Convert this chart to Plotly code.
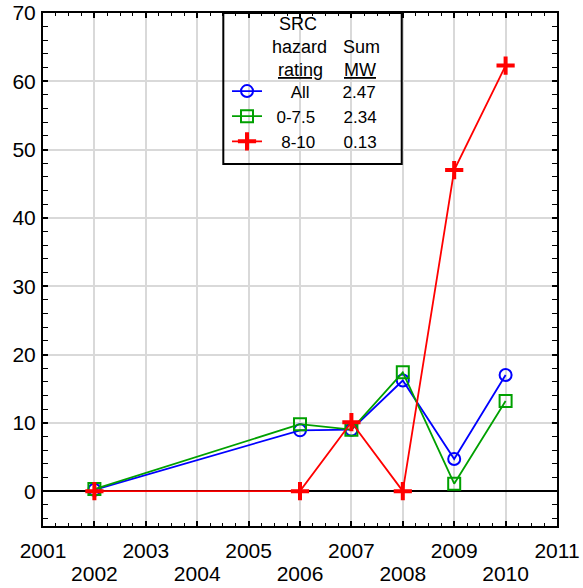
import plotly.graph_objects as go

# ---- data ----
years = [2002, 2006, 2007, 2008, 2009, 2010]
all_vals = [0.2, 8.9, 9.0, 16.2, 4.7, 17.0]
low_vals = [0.3, 9.8, 9.0, 17.4, 1.1, 13.2]
high_vals = [0.0, 0.0, 10.1, 0.0, 47.0, 62.3]

series_names = ["All", "0-7.5", "8-10"]
sum_mw = ["2.47", "2.34", "0.13"]

odd_years = [2001, 2003, 2005, 2007, 2009, 2011]
even_years = [2002, 2004, 2006, 2008, 2010]
all_years = list(range(2001, 2012))

FONT = "Liberation Sans, Arial, sans-serif"
NB = "\u00a0"

# legend labels: name and Sum MW padded into two columns
pad_before = [5, 2, 3]
pad_mid = [7, 6, 6]
legend_labels = [NB * a + n + NB * b + v
                 for n, v, a, b in zip(series_names, sum_mw, pad_before, pad_mid)]

fig = go.Figure()
fig.add_trace(go.Scatter(
    x=years, y=all_vals, name=legend_labels[0], mode="lines+markers",
    line=dict(color="#0000ff", width=1.8),
    marker=dict(symbol="circle-open", size=12, color="#0000ff", line=dict(width=2, color="#0000ff")),
))
fig.add_trace(go.Scatter(
    x=years, y=low_vals, name=legend_labels[1], mode="lines+markers",
    line=dict(color="#00a000", width=1.8),
    marker=dict(symbol="square-open", size=12, color="#00a000", line=dict(width=2, color="#00a000")),
))
fig.add_trace(go.Scatter(
    x=years, y=high_vals, name=legend_labels[2], mode="lines+markers",
    xaxis="x2",
    line=dict(color="#ff0000", width=1.8),
    marker=dict(symbol="cross-thin", size=13, color="#ff0000", line=dict(width=4, color="#ff0000")),
))

GRID = "#d9d9d9"

fig.update_layout(
    width=583, height=588, autosize=False,
    margin=dict(l=43, r=26, t=13, b=62, pad=0),
    paper_bgcolor="white", plot_bgcolor="white",
    font=dict(family=FONT, size=21, color="black"),
    showlegend=True,
    legend=dict(
        x=0.358, y=0.882, xanchor="left", yanchor="top",
        bgcolor="rgba(0,0,0,0)", borderwidth=0,
        font=dict(family=FONT, size=17, color="black"),
        itemclick=False, itemdoubleclick=False,
    ),
    xaxis=dict(
        range=[2001, 2011], tickmode="array", tickvals=all_years,
        ticktext=[str(y) if y in odd_years else "" for y in all_years],
        showgrid=True, gridcolor=GRID, gridwidth=2,
        ticks="inside", ticklen=5, tickwidth=1.5, tickcolor="black",
        showline=True, linecolor="black", linewidth=2, mirror="allticks",
        zeroline=False, automargin=False,
        minor=dict(tickmode="linear", tick0=2001, dtick=0.25, ticks="inside",
                   ticklen=3, tickwidth=1.2, tickcolor="black", showgrid=False),
        tickfont=dict(family=FONT, size=21, color="black"),
        ticklabelstandoff=5,
        fixedrange=True,
    ),
    xaxis2=dict(
        range=[2001, 2011], overlaying="x", anchor="y", side="bottom",
        tickmode="array", tickvals=even_years, ticktext=[str(y) for y in even_years],
        showgrid=False, showline=False, zeroline=False, ticks="",
        ticklabelstandoff=33, automargin=False,
        tickfont=dict(family=FONT, size=21, color="black"),
        fixedrange=True,
    ),
    yaxis=dict(
        range=[-5.1, 70], tickmode="linear", tick0=0, dtick=10,
        showgrid=True, gridcolor=GRID, gridwidth=2,
        zeroline=True, zerolinecolor="black", zerolinewidth=2,
        ticks="inside", ticklen=5, tickwidth=1.5, tickcolor="black",
        showline=True, linecolor="black", linewidth=2, mirror="allticks",
        minor=dict(tickmode="linear", tick0=0, dtick=2, ticks="inside",
                   ticklen=3, tickwidth=1.2, tickcolor="black", showgrid=False),
        tickfont=dict(family=FONT, size=21, color="black"),
        ticklabelstandoff=1, automargin=False,
        fixedrange=True,
    ),
)

# legend frame
fig.add_shape(type="rect", xref="paper", yref="paper",
              x0=0.3508, x1=0.6979, y0=0.7057, y1=1.0,
              line=dict(color="black", width=2), fillcolor="rgba(0,0,0,0)", layer="above")

# legend header
hdr = [
    ("SRC", 0.4961, 0.9791),
    ("hazard", 0.4981, 0.9343),
    ("<u>rating</u>", 0.5010, 0.8895),
    ("Sum", 0.6187, 0.9343),
    ("<u>MW</u>", 0.6177, 0.8895),
]
for txt, x, y in hdr:
    fig.add_annotation(text=txt, x=x, y=y, xref="paper", yref="paper",
                       xanchor="center", yanchor="middle", showarrow=False,
                       font=dict(family=FONT, size=18, color="black"))

fig.write_html("out.html",
               config={"displayModeBar": False},
               post_script="document.body.style.margin='0';document.body.style.overflow='hidden';")
